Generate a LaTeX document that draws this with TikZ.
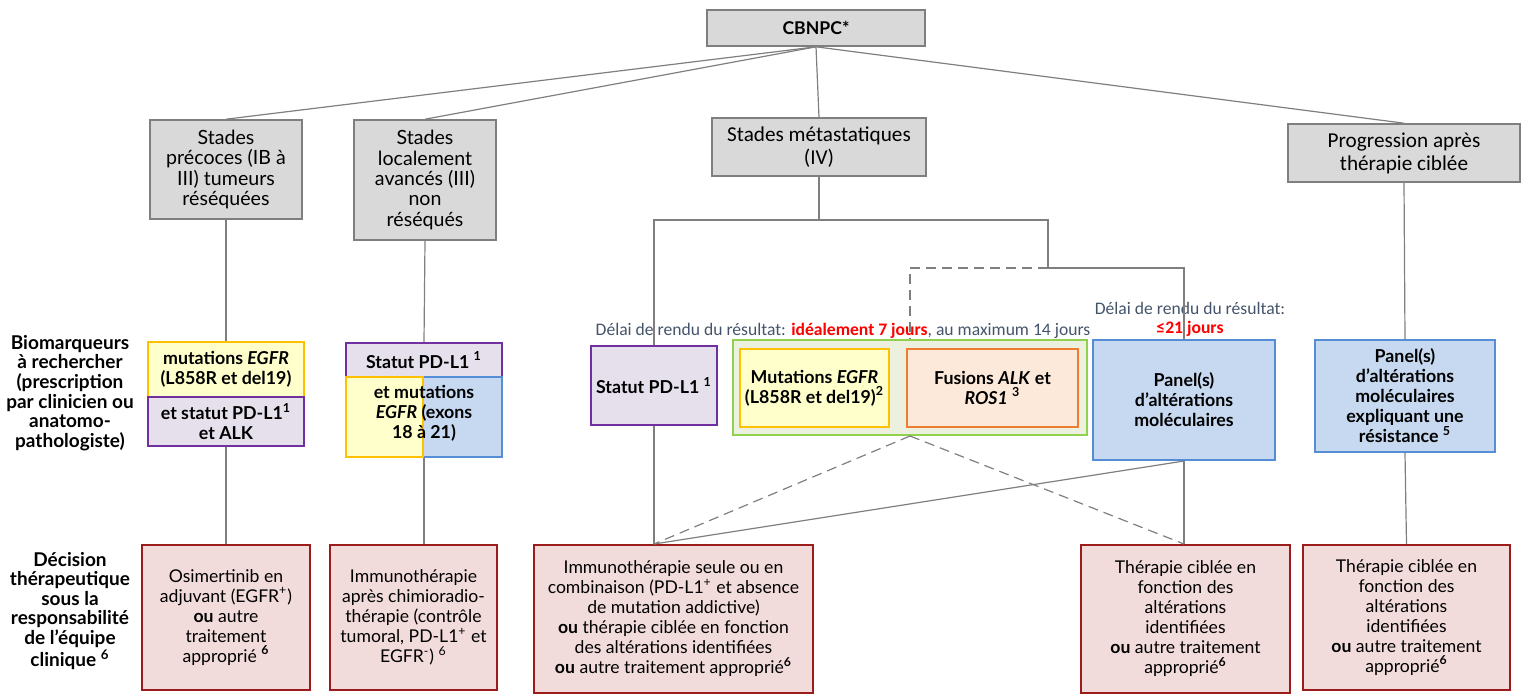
\documentclass[tikz,border=0pt]{standalone}
\usepackage{fontspec}
\setmainfont{Lato}
\newfontfamily\calibri{Carlito}
\usepackage{xcolor}
\usetikzlibrary{positioning,calc}

\definecolor{stagefill}{HTML}{D9D9D9}
\definecolor{stageline}{HTML}{7F7F7F}
\definecolor{yelfill}{HTML}{FFFFCC}
\definecolor{yelline}{HTML}{FFC000}
\definecolor{purfill}{HTML}{E5E0EC}
\definecolor{purline}{HTML}{7030A0}
\definecolor{bluefill}{HTML}{C6D9F1}
\definecolor{blueline}{HTML}{558ED5}
\definecolor{orafill}{HTML}{FDE9D9}
\definecolor{oraline}{HTML}{ED7D31}
\definecolor{grnfill}{HTML}{EBF1DE}
\definecolor{grnline}{HTML}{92D050}
\definecolor{decfill}{HTML}{F2DCDB}
\definecolor{decline}{HTML}{9C1B1B}
\definecolor{delaytext}{HTML}{44546A}

\begin{document}
\begin{tikzpicture}[x=0.5pt, y=-0.5pt,
    every node/.style={align=center, inner sep=0pt, font=\fontsize{8.8}{10}\selectfont},
    stage/.style={draw=stageline, fill=stagefill, line width=0.8pt, font=\fontsize{9.8}{10.2}\selectfont},
    markbold/.style={font=\fontsize{8.9}{10}\selectfont\bfseries},
    yelbox/.style={draw=yelline, fill=yelfill, line width=1pt, markbold},
    purbox/.style={draw=purline, fill=purfill, line width=1pt, markbold},
    bluebox/.style={draw=blueline, fill=bluefill, line width=1pt, markbold},
    orabox/.style={draw=oraline, fill=orafill, line width=1pt, markbold},
    grnbox/.style={draw=grnline, fill=grnfill, line width=1pt},
    decbox/.style={draw=decline, fill=decfill, line width=1pt},
    rowlabel/.style={font=\fontsize{9.5}{9.8}\selectfont\bfseries},
    delay/.style={text=delaytext, font=\calibri\fontsize{8.8}{9.5}\selectfont},
    link/.style={draw=stageline, line width=0.6pt},
    dashlink/.style={link, dash pattern=on 5pt off 3pt}]
    \useasboundingbox (0,0) rectangle (1527,698);

    % stages
    \node [stage, font=\fontsize{8.8}{10}\selectfont\bfseries, minimum width=109pt, minimum height=18pt] (cbnpc) at (816,28) {CBNPC*};
    \node [stage, minimum width=76pt, minimum height=49.5pt] (early) at (226,169.5) {Stades\\ précoces (IB à\\ III) tumeurs\\ réséquées};
    \node [stage, minimum width=71pt, minimum height=60pt] (local) at (425,180) {Stades\\ localement\\ avancés (III)\\ non\\ réséqués};
    \node [stage, font=\calibri\fontsize{10.6}{11.5}\selectfont, minimum width=107pt, minimum height=29pt] (meta) at (819,147) {Stades métastatiques\\ (IV)};
    \node [stage, font=\calibri\fontsize{10.6}{11.5}\selectfont, minimum width=116pt, minimum height=29pt] (prog) at (1404,153) {Progression après\\ thérapie ciblée};

    % row labels
    \node [rowlabel] (biolabel) at (70,393) {Biomarqueurs\\ à rechercher\\ (prescription\\ par clinicien ou\\ anatomo-\\ pathologiste)};
    \node [rowlabel] (declabel) at (70,611) {Décision\\ thérapeutique\\ sous la\\ responsabilité\\ de l’équipe\\ clinique \textsuperscript{6}};

    % biomarkers
    \node [yelbox, minimum width=78pt, minimum height=27.5pt] (egfrA) at (226,369.5) {mutations \textit{EGFR}\\ (L858R et del19)};
    \node [purbox, minimum width=78pt, minimum height=24.5pt] (pdlA) at (226,421.5) {et statut PD-L1\textsuperscript{1}\\ et ALK};
    \node [purbox, minimum width=78pt, minimum height=17pt] (pdlB) at (424,360) {Statut PD-L1 \textsuperscript{1}};
    \node [bluebox, minimum width=39.5pt, minimum height=40pt] (blueB) at (462.5,417) {};
    \node [yelbox, minimum width=38.5pt, minimum height=40pt] (yelB) at (384.5,417) {};
    \node [markbold, minimum width=78pt, minimum height=40pt] (mutB) at (424,413) {et mutations\\ \textit{EGFR} (exons\\ 18 à 21)};

    \node [delay] (delayA) at (843,331) {Délai de rendu du résultat: \textcolor{red}{\bfseries idéalement 7 jours}, au maximum 14 jours};
    \node [delay] (delayB) at (1190,319) {Délai de rendu du résultat:\\ \textcolor{red}{\bfseries ≤21 jours}};

    \node [purbox, minimum width=63pt, minimum height=39.5pt] (pdlC) at (654,385.5) {Statut PD-L1 \textsuperscript{1}};
    \node [grnbox, minimum width=177pt, minimum height=47.5pt] (grp) at (910,387.5) {};
    \node [yelbox, minimum width=74.5pt, minimum height=39pt] (egfrC) at (814.5,388) {Mutations \textit{EGFR}\\ (L858R et del19)\textsuperscript{2}};
    \node [orabox, minimum width=85.5pt, minimum height=39pt] (fusion) at (992.5,388) {Fusions \textit{ALK} et\\ \textit{ROS1} \textsuperscript{3}};
    \node [bluebox, minimum width=91pt, minimum height=60pt] (panelC) at (1184,400) {Panel(s)\\ d’altérations\\ moléculaires};
    \node [bluebox, minimum width=90pt, minimum height=56pt] (panelD) at (1405,396) {Panel(s)\\ d’altérations\\ moléculaires\\ expliquant une\\ résistance \textsuperscript{5}};

    % decisions
    \node [decbox, minimum width=84pt, minimum height=72.5pt] (decA) at (226,617.5) {Osimertinib en\\ adjuvant (EGFR\textsuperscript{+})\\ \textbf{ou} autre\\ traitement\\ approprié \textsuperscript{\textbf{6}}};
    \node [decbox, minimum width=83.5pt, minimum height=72.5pt] (decB) at (413.5,617.5) {Immunothérapie\\ après chimioradio-\\ thérapie (contrôle\\ tumoral, PD-L1\textsuperscript{+} et\\ EGFR\textsuperscript{-}) \textsuperscript{6}};
    \node [decbox, minimum width=139.5pt, minimum height=74pt] (decC) at (673.5,619) {Immunothérapie seule ou en\\ combinaison (PD-L1\textsuperscript{+} et absence\\ de mutation addictive)\\ \textbf{ou} thérapie ciblée en fonction\\ des altérations identifiées\\ \textbf{ou} autre traitement approprié\textsuperscript{\textbf{6}}};
    \node [decbox, minimum width=104.5pt, minimum height=74pt] (decD) at (1185.5,619) {Thérapie ciblée en\\ fonction des\\ altérations\\ identifiées\\ \textbf{ou} autre traitement\\ approprié\textsuperscript{\textbf{6}}};
    \node [decbox, minimum width=103.5pt, minimum height=72.5pt] (decE) at (1406.5,617.5) {Thérapie ciblée en\\ fonction des\\ altérations\\ identifiées\\ \textbf{ou} autre traitement\\ approprié\textsuperscript{\textbf{6}}};

    % connectors
    \coordinate (split) at (819,220);
    \coordinate (splitL) at (654,220);
    \coordinate (splitR) at (1048,220);
    \coordinate (stepR) at (1048,268);
    \coordinate (stepPanel) at (1184,268);
    \coordinate (stepDash) at (910,268);
    \coordinate (decCtop) at (pdlC.south |- decC.north);
    \coordinate (decDtop) at (panelC.south |- decD.north);

    \draw [link] (cbnpc.south) -- (early.north);
    \draw [link] (cbnpc.south) -- (local.north);
    \draw [link] (cbnpc.south) -- (meta.north);
    \draw [link] (cbnpc.south) -- (prog.north);
    \draw [link] (early.south) -- (egfrA.north);
    \draw [link] (pdlA.south) -- (decA.north);
    \draw [link] (local.south) -- (pdlB.north);
    \draw [link] (mutB.south |- blueB.south) -- (mutB.south |- decB.north);
    \draw [link] (meta.south) -- (split);
    \draw [link] (pdlC.north) -- (splitL) -- (splitR) -- (stepR) -- (stepPanel) -- (panelC.north);
    \draw [dashlink] (stepR) -- (stepDash) -- (grp.north);
    \draw [link] (pdlC.south) -- (decCtop);
    \draw [dashlink] (grp.south) -- (decCtop);
    \draw [dashlink] (grp.south) -- (decDtop);
    \draw [link] (panelC.south) -- (decCtop);
    \draw [link] (panelC.south) -- (decDtop);
    \draw [link] (prog.south) -- (panelD.north);
    \draw [link] (panelD.south) -- (decE.north);
\end{tikzpicture}
\end{document}
